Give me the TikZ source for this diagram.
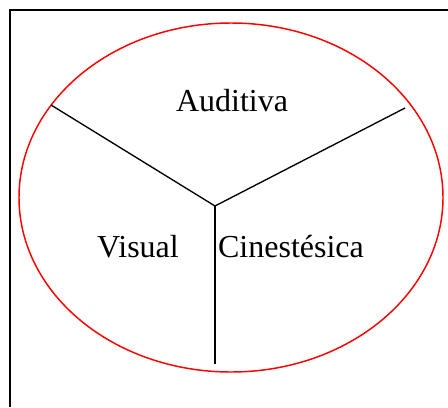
\documentclass[tikz,border=0pt]{standalone}
\usepackage{fontspec}
\setmainfont{Liberation Serif}
\begin{document}
\begin{tikzpicture}[x=0.75pt,y=-0.75pt,
  frameline/.style={draw=black,line width=1.5pt},
  divider/.style={draw=black,line width=1pt},
  oval/.style={draw=red,line width=1.1pt},
  label/.style={font=\fontsize{24}{28}\selectfont,inner sep=0pt}]
\useasboundingbox (0,0) rectangle (448,407);
% open frame: left and top edges only
\draw[frameline] (9.5,407) -- (9.5,9.5) -- (448,9.5);
% the red oval
\draw[oval] (231,197.5) ellipse [x radius=212, y radius=174.5];
% three-way split
\coordinate (hub) at (215,206);
\coordinate (leftend) at (51,105);
\coordinate (rightend) at (405,108);
\coordinate (bottomend) at (215,364);
\draw[divider] (leftend) -- (hub) -- (rightend);
\draw[divider] (hub) -- (bottomend);
% labels
\node[label] (aud) at (232,101) {Auditiva};
\node[label] (vis) at (138,247) {Visual};
\node[label] (cin) at (291,247) {Cinestésica};
\end{tikzpicture}
\end{document}
